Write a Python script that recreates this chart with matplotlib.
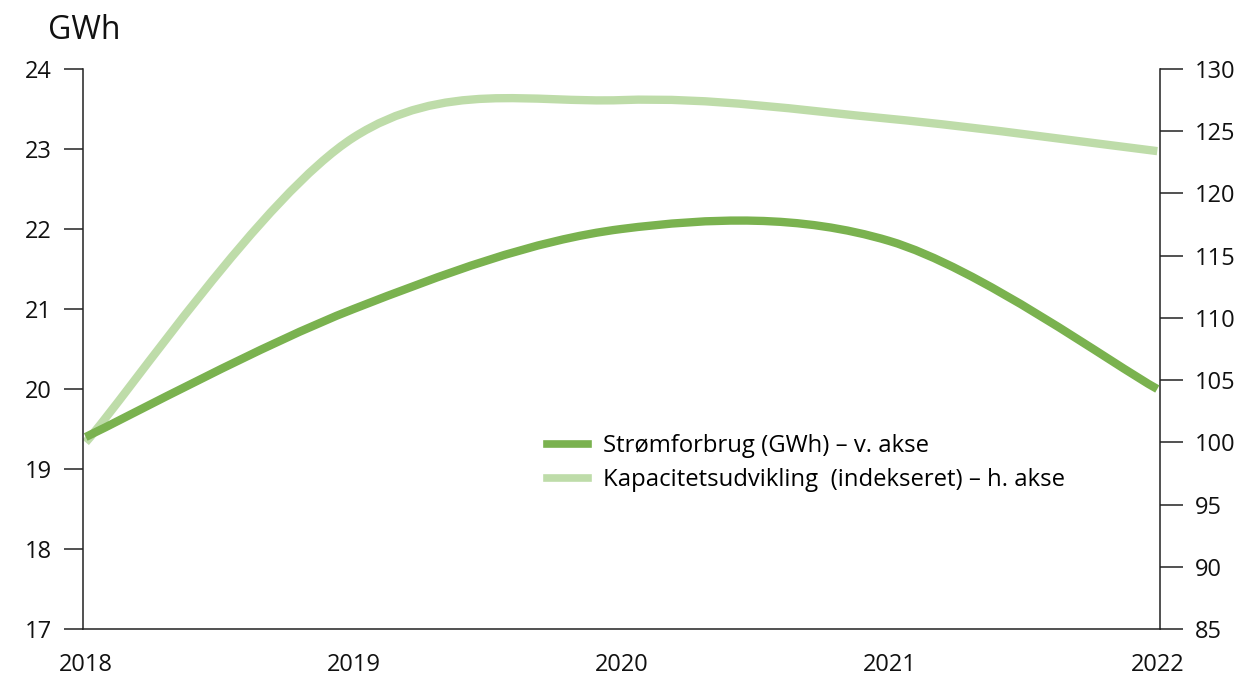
import matplotlib.pyplot as plt
from matplotlib.path import Path
from matplotlib.patches import PathPatch
from matplotlib.lines import Line2D

years = [2018, 2019, 2020, 2021, 2022]
consumption = [19.4, 21.0, 22.0, 21.85, 20.0]   # GWh, left axis
capacity = [100, 124.5, 127.5, 126.0, 123.4]    # index, right axis

dark_green = '#7AB24F'
light_green = '#BEDCA9'
axis_color = '#222222'

plt.rcParams['font.family'] = ['Open Sans', 'DejaVu Sans']
plt.rcParams['font.size'] = 17


# smoothed line (excel style bezier through the data points)
def smooth_path(xs, ys):
    verts = [(xs[0], ys[0])]
    codes = [Path.MOVETO]
    n = len(xs)
    for i in range(n - 1):
        x0, y0 = xs[max(i - 1, 0)], ys[max(i - 1, 0)]
        x1, y1 = xs[i], ys[i]
        x2, y2 = xs[i + 1], ys[i + 1]
        x3, y3 = xs[min(i + 2, n - 1)], ys[min(i + 2, n - 1)]
        verts += [(x1 + (x2 - x0) / 6, y1 + (y2 - y0) / 6),
                  (x2 - (x3 - x1) / 6, y2 - (y3 - y1) / 6),
                  (x2, y2)]
        codes += [Path.CURVE4] * 3
    return Path(verts, codes)


fig = plt.figure(figsize=(12.43, 6.77), dpi=100)
ax = fig.add_axes([0.0668, 0.0709, 0.8664, 0.8272])
ax2 = ax.twinx()

ax2.add_patch(PathPatch(smooth_path(years, capacity), facecolor='none',
                        edgecolor=light_green, linewidth=6, capstyle='butt'))
ax.add_patch(PathPatch(smooth_path(years, consumption), facecolor='none',
                       edgecolor=dark_green, linewidth=6, capstyle='butt'))

ax.set_zorder(ax2.get_zorder() + 1)
ax.patch.set_visible(False)

ax.set_xlim(2017.99, 2022.01)
ax.set_ylim(17, 24)
ax2.set_ylim(85, 130)
ax.set_xticks(years)
ax.set_yticks(range(17, 25))
ax2.set_yticks(range(85, 131, 5))

for a in (ax, ax2):
    for s in a.spines.values():
        s.set_color(axis_color)
        s.set_linewidth(1.1)
    a.spines['top'].set_visible(False)
ax.spines['right'].set_visible(False)
ax2.spines['left'].set_visible(False)
ax2.spines['bottom'].set_visible(False)

ax.tick_params(axis='x', length=0, pad=17, colors='#111111')
ax.tick_params(axis='y', length=13.7, width=1.1, pad=8.6, color=axis_color, labelcolor='#111111')
ax2.tick_params(axis='y', length=16.5, width=1.1, pad=8.6, color=axis_color, labelcolor='#111111')

fig.text(0.039, 0.955, 'GWh', fontsize=23, va='center', ha='left', color='#111111')

handles = [Line2D([], [], color=dark_green, linewidth=5.5),
           Line2D([], [], color=light_green, linewidth=5.5)]
labels = ['Strømforbrug (GWh) – v. akse', 'Kapacitetsudvikling  (indekseret) – h. akse']
ax.legend(handles, labels, loc='center left', bbox_to_anchor=(0.44, 0.316),
          bbox_transform=fig.transFigure, frameon=False, borderpad=0,
          borderaxespad=0, handlelength=1.7, handletextpad=0.65,
          labelspacing=0.42, fontsize=17.2)

fig.savefig('out.png', dpi=100)
